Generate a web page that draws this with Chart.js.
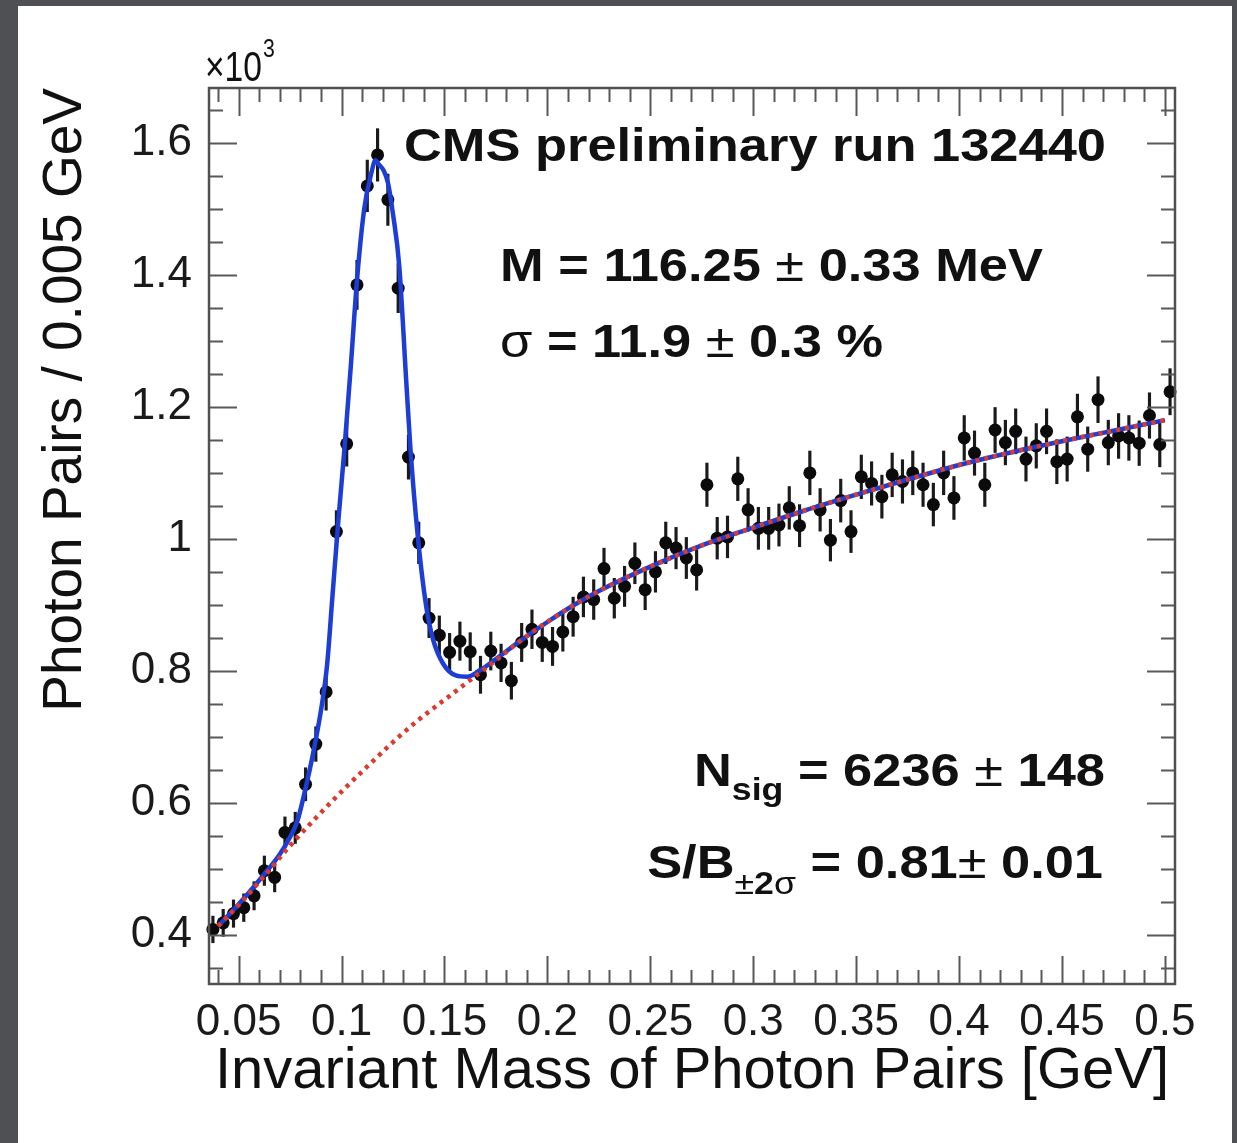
<!DOCTYPE html>
<html>
<head>
<meta charset="utf-8">
<script src="https://cdn.jsdelivr.net/npm/chart.js@4.4.0/dist/chart.umd.min.js"></script>
<style>
  html, body { margin: 0; padding: 0; background: #4e5054; overflow: hidden; }
  canvas { display: block; }
</style>
</head>
<body>
<canvas id="c" width="1237" height="1143"></canvas>
<script>
// ---------------- data (values in units of 10^3 photon pairs per 0.005 GeV) ----------------
const binCenters = [
  0.0375, 0.0425, 0.0475, 0.0525, 0.0575, 0.0625, 0.0675, 0.0725, 0.0775, 0.0825,
  0.0875, 0.0925, 0.0975, 0.1025, 0.1075, 0.1125, 0.1175, 0.1225, 0.1275, 0.1325,
  0.1375, 0.1425, 0.1475, 0.1525, 0.1575, 0.1625, 0.1675, 0.1725, 0.1775, 0.1825,
  0.1875, 0.1925, 0.1975, 0.2025, 0.2075, 0.2125, 0.2175, 0.2225, 0.2275, 0.2325,
  0.2375, 0.2425, 0.2475, 0.2525, 0.2575, 0.2625, 0.2675, 0.2725, 0.2775, 0.2825,
  0.2875, 0.2925, 0.2975, 0.3025, 0.3075, 0.3125, 0.3175, 0.3225, 0.3275, 0.3325,
  0.3375, 0.3425, 0.3475, 0.3525, 0.3575, 0.3625, 0.3675, 0.3725, 0.3775, 0.3825,
  0.3875, 0.3925, 0.3975, 0.4025, 0.4075, 0.4125, 0.4175, 0.4225, 0.4275, 0.4325,
  0.4375, 0.4425, 0.4475, 0.4525, 0.4575, 0.4625, 0.4675, 0.4725, 0.4775, 0.4825,
  0.4875, 0.4925, 0.4975, 0.5025
];
const pairCounts = [
  0.408, 0.418, 0.432, 0.441, 0.459, 0.497, 0.487, 0.555, 0.562, 0.628,
  0.689, 0.768, 1.011, 1.144, 1.385, 1.535, 1.582, 1.514, 1.380, 1.124,
  0.994, 0.880, 0.854, 0.828, 0.845, 0.829, 0.794, 0.830, 0.812, 0.785,
  0.843, 0.863, 0.843, 0.837, 0.859, 0.882, 0.912, 0.908, 0.955, 0.910,
  0.928, 0.963, 0.923, 0.950, 0.994, 0.986, 0.971, 0.953, 1.082, 1.001,
  1.003, 1.091, 1.044, 1.016, 1.016, 1.021, 1.047, 1.020, 1.100, 1.044,
  0.998, 1.058, 1.011, 1.094, 1.084, 1.064, 1.097, 1.087, 1.100, 1.082,
  1.052, 1.100, 1.062, 1.153, 1.130, 1.082, 1.165, 1.146, 1.163, 1.121,
  1.141, 1.163, 1.117, 1.121, 1.185, 1.136, 1.211, 1.146, 1.156, 1.153,
  1.145, 1.187, 1.143, 1.223
];
// Fitted background (red dotted)
const bkgX = [0.04, 0.05, 0.0625, 0.075, 0.0875, 0.10, 0.1125, 0.125, 0.1375, 0.15,
              0.1625, 0.175, 0.1875, 0.20, 0.2125, 0.225, 0.25, 0.275, 0.30, 0.325,
              0.35, 0.375, 0.40, 0.425, 0.45, 0.475, 0.50];
const bkgY = [0.413, 0.445, 0.489, 0.535, 0.577, 0.617, 0.655, 0.692, 0.726, 0.756,
              0.786, 0.816, 0.847, 0.874, 0.899, 0.921, 0.958, 0.990, 1.017, 1.043,
              1.067, 1.090, 1.112, 1.131, 1.148, 1.164, 1.180];
// Signal + background fit (blue solid)
const fitX = [0.04, 0.05, 0.0625, 0.07, 0.075, 0.0785, 0.082, 0.0865, 0.0905, 0.093,
              0.0955, 0.0985, 0.1015, 0.1045, 0.1075, 0.111, 0.1145, 0.1165, 0.118, 0.1205,
              0.1225, 0.125, 0.128, 0.1315, 0.1335, 0.137, 0.141, 0.1445, 0.1495, 0.1555,
              0.161, 0.1675, 0.175, 0.1875, 0.20, 0.2125, 0.225, 0.25, 0.275, 0.30,
              0.325, 0.35, 0.375, 0.40, 0.425, 0.45, 0.475, 0.50];
const fitY = [0.413, 0.446, 0.492, 0.522, 0.548, 0.572, 0.615, 0.680, 0.750, 0.810,
              0.910, 1.030, 1.140, 1.262, 1.392, 1.500, 1.555, 1.574, 1.568, 1.558,
              1.540, 1.492, 1.415, 1.235, 1.135, 1.005, 0.900, 0.847, 0.810, 0.793,
              0.791, 0.801, 0.818, 0.847, 0.874, 0.899, 0.921, 0.958, 0.990, 1.017,
              1.043, 1.067, 1.090, 1.112, 1.131, 1.148, 1.164, 1.180];

const xTickValues = [0.05, 0.1, 0.15, 0.2, 0.25, 0.3, 0.35, 0.4, 0.45, 0.5];
const xTickLabels = ['0.05', '0.1', '0.15', '0.2', '0.25', '0.3', '0.35', '0.4', '0.45', '0.5'];
const yTickValues = [0.4, 0.6, 0.8, 1.0, 1.2, 1.4, 1.6];
const yTickLabels = ['0.4', '0.6', '0.8', '1', '1.2', '1.4', '1.6'];

const xTitle = 'Invariant Mass of Photon Pairs [GeV]';
const yTitle = 'Photon Pairs / 0.005 GeV';

// ---------------- presentation ----------------
const FONT = '"Liberation Sans", Arial, Helvetica, sans-serif';
const X_MIN = 0.0356, X_MAX = 0.5049;
const Y_MIN = 0.3253, Y_MAX = 1.6834;

// Poisson uncertainty of each bin (counts are in thousands)
const pairErrors = pairCounts.map(v => Math.sqrt(v * 1000) / 1000);

const panelPlugin = {
  id: 'panel',
  beforeDraw(chart) {
    const ctx = chart.ctx;
    ctx.save();
    ctx.fillStyle = '#4e5054';
    ctx.fillRect(0, 0, chart.width, chart.height);
    ctx.fillStyle = '#ffffff';
    ctx.fillRect(18, 6, 1214, chart.height - 6);
    ctx.restore();
  }
};

const framePlugin = {
  id: 'frameTicks',
  afterDatasetsDraw(chart) {
    const { ctx, chartArea: a, scales: { x, y } } = chart;
    ctx.save();
    ctx.strokeStyle = '#585858';
    ctx.lineWidth = 2;
    const MAJ = 28, MIN = 14;
    ctx.beginPath();
    for (let i = 0; i <= 46; i++) {
      const v = Math.round((0.04 + i * 0.01) * 1000) / 1000;
      const isMajor = xTickValues.some(t => Math.abs(t - v) < 1e-6);
      const len = isMajor ? MAJ : MIN;
      const px = Math.round(x.getPixelForValue(v)) + 0.5;
      ctx.moveTo(px, a.bottom); ctx.lineTo(px, a.bottom - len);
      ctx.moveTo(px, a.top); ctx.lineTo(px, a.top + len);
    }
    for (let i = 0; i <= 26; i++) {
      const v = Math.round((0.35 + i * 0.05) * 1000) / 1000;
      const isMajor = yTickValues.some(t => Math.abs(t - v) < 1e-6);
      const len = isMajor ? MAJ : MIN;
      const py = Math.round(y.getPixelForValue(v)) + 0.5;
      ctx.moveTo(a.left, py); ctx.lineTo(a.left + len, py);
      ctx.moveTo(a.right, py); ctx.lineTo(a.right - len, py);
    }
    ctx.stroke();
    ctx.lineWidth = 2.5;
    ctx.strokeStyle = '#505050';
    ctx.strokeRect(a.left, a.top, a.right - a.left, a.bottom - a.top);
    ctx.restore();
  }
};

function drawRuns(ctx, runs, x, y, align, sx) {
  ctx.save();
  let total = 0;
  runs.forEach(r => { ctx.font = r.f; r.w = ctx.measureText(r.t).width; total += r.w; });
  const start = align === 'right' ? x - total * sx : x;
  ctx.translate(start, y);
  ctx.scale(sx, 1);
  let cx = 0;
  runs.forEach(r => { ctx.font = r.f; ctx.fillText(r.t, cx, r.dy || 0); cx += r.w; });
  ctx.restore();
}

const textPlugin = {
  id: 'annotations',
  afterDraw(chart) {
    const ctx = chart.ctx;
    ctx.save();
    ctx.fillStyle = '#111111';
    ctx.textBaseline = 'alphabetic';
    ctx.textAlign = 'left';
    const B = 'bold 47px ' + FONT, R = '47px ' + FONT;
    const Bs = 'bold 32px ' + FONT, Rs = '32px ' + FONT;
    const SX = 1.115;
    drawRuns(ctx, [{ t: '\u00d710', f: '42px ' + FONT }], 205, 81, 'left', 0.8);
    drawRuns(ctx, [{ t: '3', f: '25px ' + FONT }], 263, 57, 'left', 0.85);
    drawRuns(ctx, [{ t: 'CMS preliminary run 132440', f: B }], 404, 161, 'left', SX);
    drawRuns(ctx, [{ t: 'M = 116.25 ', f: B }, { t: '\u00b1', f: R }, { t: ' 0.33 MeV', f: B }], 500, 281, 'left', SX);
    drawRuns(ctx, [{ t: '\u03c3', f: R }, { t: ' = 11.9 ', f: B }, { t: '\u00b1', f: R }, { t: ' 0.3 %', f: B }], 500, 357, 'left', SX);
    drawRuns(ctx, [{ t: 'N', f: B }, { t: 'sig', f: Bs, dy: 14 }, { t: ' = 6236 ', f: B }, { t: '\u00b1', f: R }, { t: ' 148', f: B }], 1105, 786, 'right', SX);
    drawRuns(ctx, [{ t: 'S/B', f: B }, { t: '\u00b1', f: Rs, dy: 16 }, { t: '2', f: Bs, dy: 16 }, { t: '\u03c3', f: Rs, dy: 16 },
                   { t: ' = 0.81', f: B }, { t: '\u00b1', f: R }, { t: ' 0.01', f: B }], 1103, 878, 'right', SX);
    ctx.restore();
  }
};

const ctx = document.getElementById('c').getContext('2d');
new Chart(ctx, {
  type: 'line',
  data: {
    datasets: [
      {
        label: 'background',
        type: 'line',
        data: bkgX.map((x, i) => ({ x, y: bkgY[i] })),
        borderColor: '#dd3a2e',
        borderWidth: 4.5,
        borderDash: [4, 5],
        pointRadius: 0,
        cubicInterpolationMode: 'monotone',
        fill: false,
        order: 0
      },
      {
        label: 'fit',
        type: 'line',
        data: fitX.map((x, i) => ({ x, y: fitY[i] })),
        borderColor: '#1c3dd6',
        borderWidth: 4.5,
        pointRadius: 0,
        cubicInterpolationMode: 'monotone',
        fill: false,
        order: 1
      },
      {
        label: 'data',
        type: 'scatter',
        data: binCenters.map((x, i) => ({ x, y: pairCounts[i] })),
        pointRadius: 6.5,
        pointBackgroundColor: '#0b0b0b',
        pointBorderWidth: 0,
        showLine: false,
        clip: false,
        order: 2
      },
      {
        label: 'errors',
        type: 'bar',
        data: binCenters.map((x, i) => ({ x, y: [pairCounts[i] - pairErrors[i], pairCounts[i] + pairErrors[i]] })),
        backgroundColor: '#1a1a1a',
        borderWidth: 0,
        barThickness: 2.5,
        grouped: false,
        order: 3
      }
    ]
  },
  options: {
    responsive: false,
    animation: false,
    devicePixelRatio: 1,
    events: [],
    layout: { padding: { left: 0, top: 88, right: 62, bottom: 0 } },
    plugins: { legend: { display: false }, tooltip: { enabled: false }, title: { display: false } },
    scales: {
      x: {
        type: 'linear',
        position: 'bottom',
        min: X_MIN, max: X_MAX,
        bounds: 'data',
        offset: false,
        grid: { display: false, drawTicks: false },
        border: { display: false },
        afterBuildTicks: s => { s.ticks = xTickValues.map(v => ({ value: v })); },
        afterFit: s => { s.height = 159; },
        ticks: {
          autoSkip: false, maxRotation: 0, minRotation: 0, padding: 12,
          color: '#1a1a1a', font: { family: FONT, size: 44 },
          callback: (v, i) => xTickLabels[i]
        },
        title: {
          display: true, text: xTitle, align: 'center', color: '#111111',
          font: { family: FONT, size: 58, lineHeight: 1.0 },
          padding: { top: 0, bottom: 42 }
        }
      },
      y: {
        type: 'linear',
        position: 'left',
        min: Y_MIN, max: Y_MAX,
        bounds: 'data',
        grid: { display: false, drawTicks: false },
        border: { display: false },
        afterBuildTicks: s => { s.ticks = yTickValues.map(v => ({ value: v })); },
        afterFit: s => { s.width = 209; },
        ticks: {
          autoSkip: false, padding: 17,
          color: '#1a1a1a', font: { family: FONT, size: 44 },
          callback: (v, i) => yTickLabels[i]
        },
        title: {
          display: true, text: yTitle, align: 'end', color: '#111111',
          font: { family: FONT, size: 55, lineHeight: 1.0 },
          padding: { top: 38, bottom: 0 }
        }
      }
    }
  },
  plugins: [panelPlugin, framePlugin, textPlugin]
});
</script>
</body>
</html>
